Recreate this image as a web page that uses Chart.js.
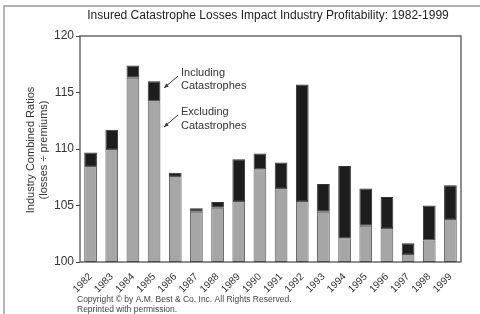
<!DOCTYPE html>
<html>
<head>
<meta charset="utf-8">
<script src="https://cdn.jsdelivr.net/npm/chart.js@4"></script>
<style>
  html, body { margin: 0; padding: 0; background: #fff; }
  #wrap { width: 480px; height: 314px; position: relative; }
</style>
</head>
<body>
<div id="wrap"><canvas id="myChart" width="480" height="314"></canvas></div>
<script>
'use strict'
// years on the x axis
let years = ['1982', '1983', '1984', '1985', '1986', '1987', '1988', '1989', '1990',
  '1991', '1992', '1993', '1994', '1995', '1996', '1997', '1998', '1999'];

// combined ratio excluding catastrophes (gray part)
let excluding = [108.5, 110.0, 116.3, 114.2, 107.6, 104.45, 104.8, 105.4, 108.2,
  106.55, 105.4, 104.45, 102.1, 103.2, 103.0, 100.7, 101.9, 103.8];

// combined ratio including catastrophes (top of black part)
let including = [109.7, 111.7, 117.4, 116.0, 107.9, 104.75, 105.3, 109.1, 109.6,
  108.8, 115.7, 106.9, 108.5, 106.5, 105.75, 101.65, 105.0, 106.8];

let yTicks = [100, 105, 110, 115, 120];

let baseLine = 100;

let grayBars = excluding.map(function (v) { return [baseLine, v]; });
let blackBars = excluding.map(function (v, i) { return [v, including[i]]; });

// titles, frame, notes
let textPlugin = {
  id: 'textPlugin',
  afterDraw: function (chart) {
    let ctx = chart.ctx;
    let a = chart.chartArea;
    ctx.save();

    // outer frame (left + top)
    ctx.strokeStyle = '#9a9a9a';
    ctx.lineWidth = 1.5;
    ctx.beginPath();
    ctx.moveTo(4, 314);
    ctx.lineTo(4, 6);
    ctx.lineTo(480, 6);
    ctx.stroke();

    // plot box
    ctx.strokeStyle = '#444';
    ctx.lineWidth = 1.2;
    ctx.strokeRect(a.left, a.top, a.right - a.left, a.bottom - a.top);

    ctx.fillStyle = '#222';
    ctx.textBaseline = 'middle';
    ctx.textAlign = 'center';
    ctx.font = '12px "Liberation Sans", Arial, sans-serif';
    ctx.fillText('Insured Catastrophe Losses Impact Industry Profitability: 1982-1999', 268, 16);

    // y axis title
    ctx.save();
    ctx.translate(31, 150);
    ctx.rotate(-Math.PI / 2);
    ctx.font = '11px "Liberation Sans", Arial, sans-serif';
    ctx.fillStyle = '#333';
    ctx.fillText('Industry Combined Ratios', 0, 0);
    ctx.fillText('(losses \u00f7 premiums)', 0, 13);
    ctx.restore();

    // annotations
    ctx.textAlign = 'left';
    ctx.font = '11px "Liberation Sans", Arial, sans-serif';
    ctx.fillStyle = '#333';
    ctx.fillText('Including', 181, 73);
    ctx.fillText('Catastrophes', 181, 86);
    ctx.fillText('Excluding', 181, 112);
    ctx.fillText('Catastrophes', 181, 126);

    ctx.strokeStyle = '#333';
    ctx.lineWidth = 1;
    let arrows = [[178, 76, 164, 88], [178, 115, 164, 127]];
    for (let i = 0; i < arrows.length; i++) {
      let ar = arrows[i];
      ctx.beginPath();
      ctx.moveTo(ar[0], ar[1]);
      ctx.lineTo(ar[2], ar[3]);
      ctx.stroke();
      let ang = Math.atan2(ar[3] - ar[1], ar[2] - ar[0]);
      ctx.beginPath();
      ctx.moveTo(ar[2], ar[3]);
      ctx.lineTo(ar[2] - 5 * Math.cos(ang - 0.4), ar[3] - 5 * Math.sin(ang - 0.4));
      ctx.lineTo(ar[2] - 5 * Math.cos(ang + 0.4), ar[3] - 5 * Math.sin(ang + 0.4));
      ctx.closePath();
      ctx.fillStyle = '#333';
      ctx.fill();
    }

    // copyright
    ctx.font = '8.5px "Liberation Sans", Arial, sans-serif';
    ctx.fillStyle = '#444';
    ctx.fillText('Copyright \u00a9 by A.M. Best & Co. Inc. All Rights Reserved.', 77, 300);
    ctx.fillText('Reprinted with permission.', 77, 310);

    ctx.restore();
  }
};

let ctx = document.getElementById('myChart').getContext('2d');
let myChart = new Chart(ctx, {
  type: 'bar',
  data: {
    labels: years,
    datasets: [{
      label: 'Excluding Catastrophes',
      data: grayBars,
      backgroundColor: '#a6a6a6',
      borderColor: '#555',
      borderWidth: 1,
      borderSkipped: false,
      grouped: false,
      order: 2
    },
    {
      label: 'Including Catastrophes',
      data: blackBars,
      backgroundColor: '#1d1d1d',
      borderColor: '#333',
      borderWidth: 1,
      borderSkipped: false,
      grouped: false,
      order: 1
    }]
  },
  plugins: [textPlugin],
  options: {
    responsive: false,
    animation: false,
    layout: { padding: { top: 36, right: 19, left: 0, bottom: 0 } },
    datasets: { bar: { categoryPercentage: 1, barPercentage: 0.6 } },
    plugins: {
      legend: { display: false },
      title: { display: false },
      tooltip: { enabled: false }
    },
    scales: {
      x: {
        afterFit: function (scale) { scale.height = 52; },
        grid: { display: false },
        border: { display: false },
        ticks: {
          autoSkip: false,
          minRotation: 45,
          maxRotation: 45,
          padding: 1,
          color: '#333',
          font: { family: '"Liberation Sans", Arial, sans-serif', size: 10 }
        }
      },
      y: {
        min: 100,
        max: 120,
        afterFit: function (scale) { scale.width = 80; },
        afterBuildTicks: function (scale) {
          scale.ticks = yTicks.map(function (v) { return { value: v }; });
        },
        grid: { drawOnChartArea: false, drawTicks: true, tickLength: 4, color: '#444' },
        border: { display: false },
        ticks: {
          padding: 2,
          color: '#333',
          font: { family: '"Liberation Sans", Arial, sans-serif', size: 12 }
        }
      }
    }
  }
});
</script>
</body>
</html>
